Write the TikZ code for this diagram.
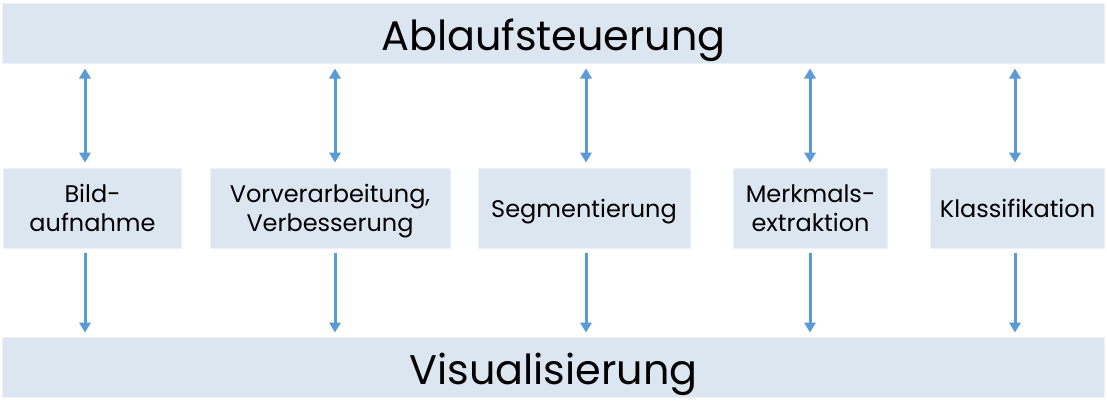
\documentclass[tikz,border=0pt]{standalone}
\usepackage{fontspec}
\setmainfont{Poppins}
\usepackage{xcolor}
\usetikzlibrary{arrows.meta}
\definecolor{barfill}{HTML}{DCE6F1}
\definecolor{arrowblue}{HTML}{5B9BD5}

\begin{document}
\begin{tikzpicture}[x=0.75pt,y=-0.75pt,
    bar/.style={fill=barfill, draw=barfill!50!white, line width=0.75pt,
        minimum width=827pt, minimum height=45pt, inner sep=0pt,
        text height=26pt, text depth=0pt,
        font=\fontsize{31}{36}\selectfont},
    stage/.style={fill=barfill, draw=barfill!50!white, line width=0.75pt,
        minimum height=60pt, inner sep=0pt, align=center, text depth=0pt,
        font=\fontsize{18}{21.75}\selectfont},
    link/.style={draw=arrowblue, line width=2.25pt,
        -{Triangle[length=7.5pt,width=8.5pt]}},
    dbl/.style={link, {Triangle[length=7.5pt,width=8.5pt]}-{Triangle[length=7.5pt,width=8.5pt]}}]
    \useasboundingbox (0,0) rectangle (1107,400);

    \node[bar] (top) at (553.5,33){Ablaufsteuerung};
    \node[bar] (bottom) at (553.5,367){Visualisierung};

    \node[stage, minimum width=134pt] (bild) at (92.5,208){Bild-\\aufnahme};
    \node[stage, minimum width=180pt] (vor) at (330,208){Vorverarbeitung,\\Verbesserung};
    \node[stage, minimum width=159pt] (seg) at (584,208){Segmentierung};
    \node[stage, minimum width=116pt] (merk) at (810.5,208){Merkmals-\\extraktion};
    \node[stage, minimum width=131pt] (klass) at (1017.5,208){Klassifikation};

    % arrows between the layers
    \foreach \n/\x in {bild/85, vor/335, seg/586, merk/810, klass/1015} {
        \coordinate (c\n) at (\x,0);
        \draw[dbl, shorten <=3.75pt, shorten >=3.75pt] (top.south -| c\n) -- (\n.north -| c\n);
        \draw[link, shorten <=3pt, shorten >=3pt] (\n.south -| c\n) -- (bottom.north -| c\n);
    }
\end{tikzpicture}
\end{document}
